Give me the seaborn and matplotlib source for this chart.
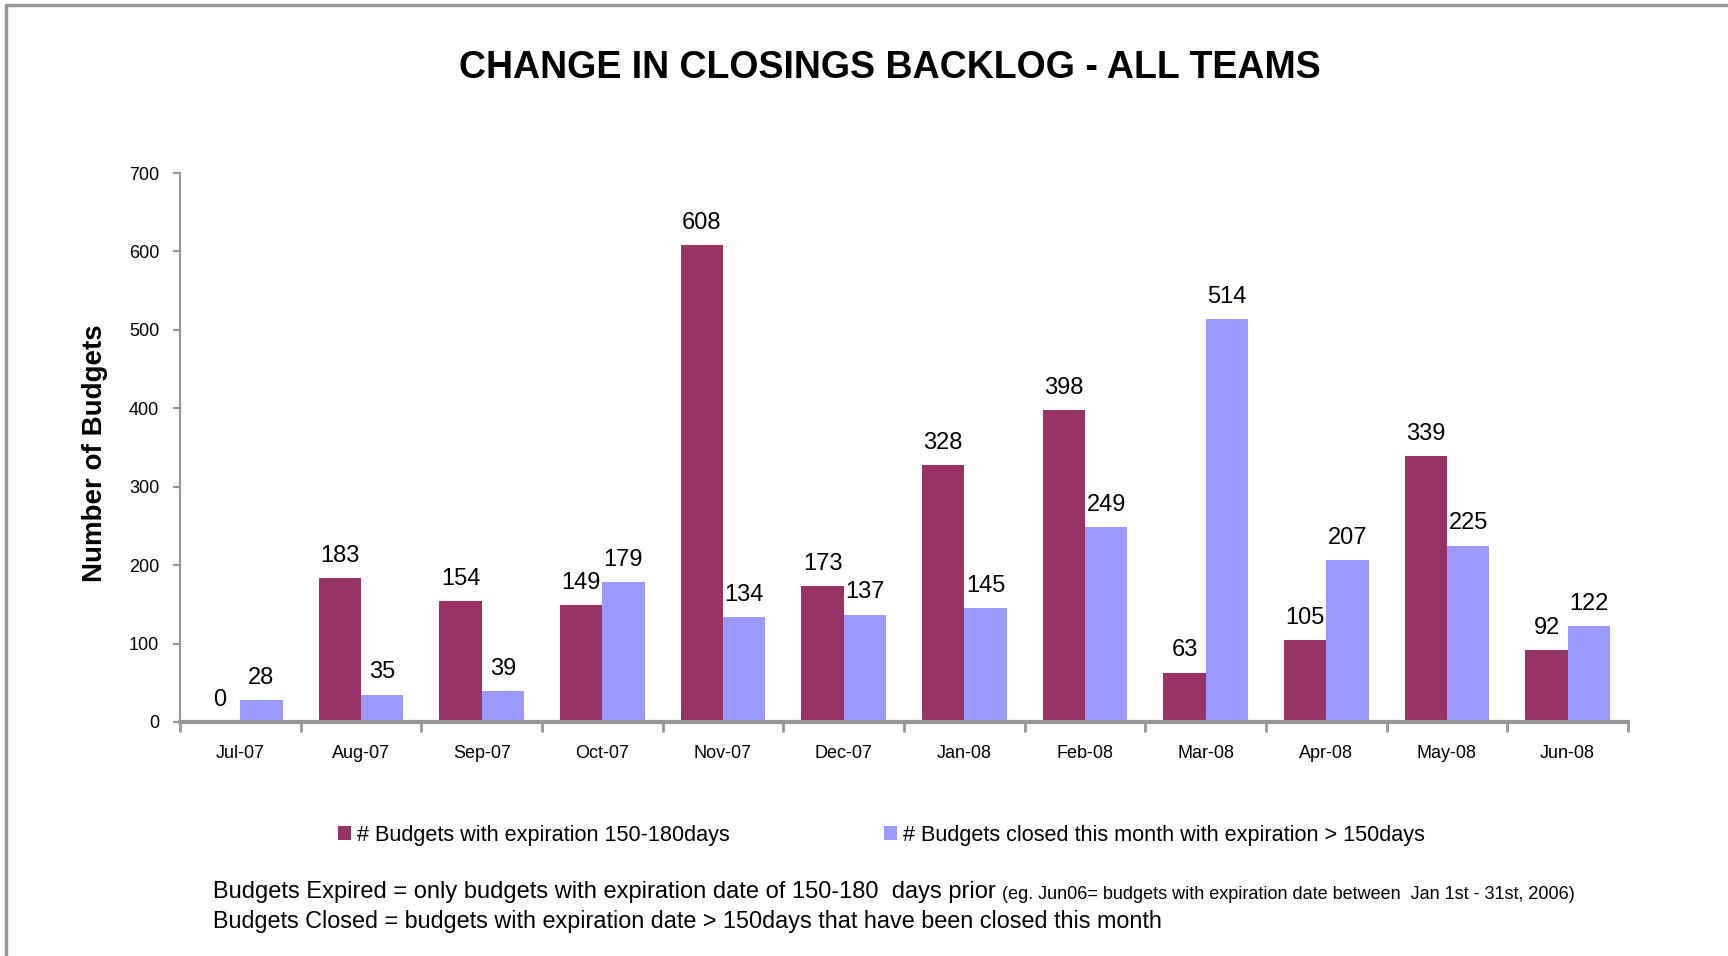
import matplotlib
matplotlib.use("Agg")
import matplotlib.pyplot as plt
import seaborn as sns
import pandas as pd
from matplotlib.lines import Line2D

months = ["Jul-07", "Aug-07", "Sep-07", "Oct-07", "Nov-07", "Dec-07",
          "Jan-08", "Feb-08", "Mar-08", "Apr-08", "May-08", "Jun-08"]
expired = [0, 183, 154, 149, 608, 173, 328, 398, 63, 105, 339, 92]
closed = [28, 35, 39, 179, 134, 137, 145, 249, 514, 207, 225, 122]

series_expired = "# Budgets with expiration 150-180days"
series_closed = "# Budgets closed this month with expiration > 150days"

NARROW = ["Liberation Sans Narrow", "Liberation Sans", "DejaVu Sans"]
GRAY = "#969696"

df = pd.DataFrame({
    "month": months * 2,
    "value": expired + closed,
    "series": [series_expired] * len(months) + [series_closed] * len(months),
})

sns.set_theme(style="white")
plt.rcParams["font.family"] = NARROW
plt.rcParams["text.color"] = "black"
plt.rcParams["axes.labelcolor"] = "black"
plt.rcParams["xtick.labelcolor"] = "black"
plt.rcParams["ytick.labelcolor"] = "black"

fig = plt.figure(figsize=(17.28, 9.56), dpi=100)
ax = fig.add_axes([180 / 1728, 1 - 722 / 956, 1448 / 1728, 549 / 956])

sns.barplot(
    data=df, x="month", y="value", hue="series", order=months,
    hue_order=[series_expired, series_closed],
    palette=["#993366", "#9999FF"], width=0.7, saturation=1,
    edgecolor="none", ax=ax, legend=True,
)

for cont in ax.containers:
    ax.bar_label(cont, padding=8, fontsize=17, color="black")

ax.set_ylim(0, 700)
ax.set_yticks(range(0, 701, 100))
ax.set_xlim(-0.5, len(months) - 0.5)
ax.set_xlabel("")
ax.set_ylabel("Number of Budgets", fontsize=20, fontweight="bold",
              family=["Liberation Sans", "DejaVu Sans"])
ax.yaxis.set_label_coords(-0.05, 0.49)
ax.tick_params(axis="y", labelsize=13, length=5, width=1.5, color=GRAY, left=True, pad=10)
ax.set_xticks(range(len(months)))
ax.set_xticklabels(months, fontsize=13)
ax.tick_params(axis="x", length=0, pad=16.5)
# category boundary ticks on x axis
ax.set_xticks([i - 0.5 for i in range(len(months) + 1)], minor=True)
ax.tick_params(axis="x", which="minor", length=7, width=2, color=GRAY, bottom=True)

for s in ["top", "right"]:
    ax.spines[s].set_visible(False)
ax.spines["left"].set_color(GRAY)
ax.spines["left"].set_linewidth(1.5)
ax.spines["bottom"].set_color(GRAY)
ax.spines["bottom"].set_linewidth(3)

handles, labels = ax.get_legend_handles_labels()
ax.get_legend().remove()
fig.legend(handles, labels, loc="center", bbox_to_anchor=(0.51, 1 - 835 / 956),
           ncol=2, frameon=False, fontsize=15.6, handlelength=0.6, handleheight=0.6,
           handletextpad=0.3, columnspacing=7.1)

fig.text(890 / 1728, 1 - 68 / 956, "CHANGE IN CLOSINGS BACKLOG - ALL TEAMS",
         ha="center", va="center", fontsize=27, fontweight="bold")

t1 = fig.text(213 / 1728, 1 - 898 / 956,
              "Budgets Expired = only budgets with expiration date of 150-180  days prior ",
              ha="left", va="baseline", fontsize=17)
ax.annotate("(eg. Jun06= budgets with expiration date between  Jan 1st - 31st, 2006)",
            xy=(1, 0), xycoords=t1, ha="left", va="bottom", fontsize=13)
fig.text(213 / 1728, 1 - 928 / 956,
         "Budgets Closed = budgets with expiration date > 150days that have been closed this month",
         ha="left", va="baseline", fontsize=16.8)

# frame of the original slide (top and left edges visible)
fig.add_artist(Line2D([6 / 1728, 6 / 1728], [0, 1 - 5 / 956], transform=fig.transFigure,
                      color=GRAY, linewidth=2.5))
fig.add_artist(Line2D([6 / 1728, 1], [1 - 5 / 956, 1 - 5 / 956], transform=fig.transFigure,
                      color=GRAY, linewidth=2.5))

fig.savefig("out.png", dpi=100)
